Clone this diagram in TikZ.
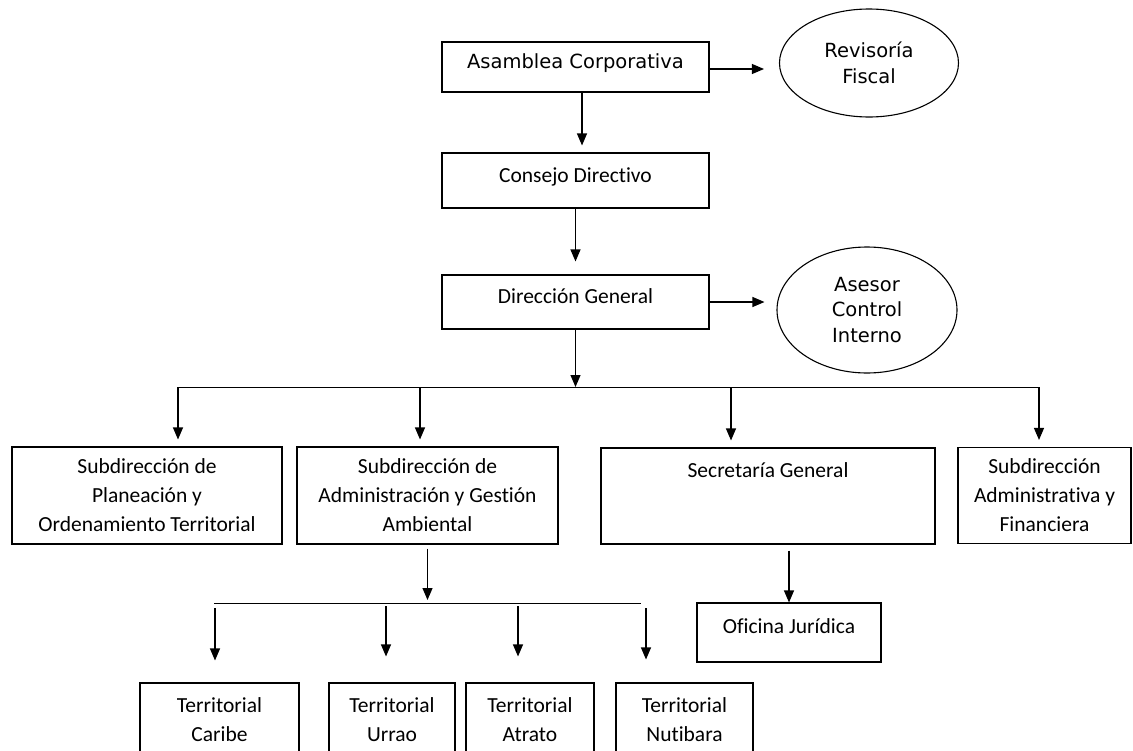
\documentclass[tikz,border=0pt]{standalone}
\usepackage{fontspec}
\setmainfont{Carlito}[Ligatures={NoCommon}]
\newfontfamily\verdfont{DejaVu Sans}
\usepackage{tikz}
\usetikzlibrary{arrows.meta,shapes.geometric}

\begin{document}
\begin{tikzpicture}[x=1pt,y=-1pt,
		box/.style={draw, line width=1.1pt, inner sep=0pt, align=center, font=\fontsize{21.5}{29}\selectfont},
		vbox/.style={box, font=\verdfont\fontsize{19.5}{25.5}\selectfont},
		oval/.style={draw, ellipse, line width=1.1pt, inner sep=0pt, align=center, font=\verdfont\fontsize{19.5}{25.5}\selectfont},
		bar/.style={line width=0.8pt},
		conn/.style={line width=1.1pt, -{Triangle[length=12pt,width=10pt]}}]
	\useasboundingbox (0,0) rectangle (1133,750);

	\node[vbox, minimum width=267, text height=26, text depth=24] (asam) at (575.5,67) {Asamblea Corporativa};
	\node[box, minimum width=267, text height=29, text depth=26] (cons) at (575.5,180.5) {Consejo Directivo};
	\node[box, minimum width=267, text height=28, text depth=26] (dire) at (575.5,302) {Dirección General};
	\node[oval, minimum width=179, minimum height=108] (revi) at (869,63) {Revisoría\\Fiscal};
	\node[oval, minimum width=180, minimum height=126] (ases) at (867,310) {Asesor\\Control\\Interno};

	\node[box, minimum width=270, minimum height=97] (plan) at (147,495.5) {Subdirección de\\Planeación y\\Ordenamiento Territorial};
	\node[box, minimum width=261, minimum height=97] (admi) at (427.5,495.5) {Subdirección de\\Administración y Gestión\\Ambiental};
	\node[box, minimum width=334, text height=29, text depth=67] (secr) at (768,496) {Secretaría General};
	\node[box, minimum width=173, minimum height=96] (fina) at (1044.5,495.5) {Subdirección\\Administrativa y\\Financiera};
	\node[box, minimum width=184, text height=30, text depth=29] (ofic) at (789,632.5) {Oficina Jurídica};

	\node[box, minimum width=159, minimum height=74] (cari) at (219.5,720) {Territorial\\Caribe};
	\node[box, minimum width=126, minimum height=74] (urra) at (392,720) {Territorial\\Urrao};
	\node[box, minimum width=128, minimum height=74] (atra) at (530,720) {Territorial\\Atrato};
	\node[box, minimum width=137, minimum height=74] (nuti) at (684.5,720) {Territorial\\Nutibara};

	\coordinate (b1) at (178,387);
	\coordinate (b2) at (420,387);
	\coordinate (b3) at (731,387);
	\coordinate (b4) at (1040,387);
	\coordinate (t1) at (214,603);
	\coordinate (t2) at (386,603);
	\coordinate (t3) at (518,603);
	\coordinate (t4) at (641,603);

	\draw[bar] (b1) -- (b4);
	\draw[bar] (t1) -- (t4);

	\draw[conn, shorten >=15pt] ([yshift=-2pt]asam.east) -- ([yshift=-2pt]asam.east -| revi.west);
	\draw[conn, shorten >=7pt] ([xshift=6.5pt]asam.south) -- ([xshift=6.5pt]cons.north);
	\draw[conn, shorten >=13pt] (cons.south) -- (dire.north);
	\draw[conn, shorten >=12pt] (dire.east) -- (dire.east -| ases.west);
	\draw[conn] (dire.south) -- (dire.south |- b1);

	\draw[conn, shorten >=7pt] (b1) -- (b1 |- plan.north);
	\draw[conn, shorten >=7pt] (b2) -- (b2 |- admi.north);
	\draw[conn, shorten >=7pt] (b3) -- (b3 |- secr.north);
	\draw[conn, shorten >=7pt] ([xshift=-1pt]b4) -- ([xshift=-1pt]b4 |- fina.north);

	\draw[conn, shorten <=4pt, shorten >=3pt] (admi.south) -- (admi.south |- t1);
	\draw[conn, shorten <=6pt] (secr.south -| ofic.north) -- (ofic.north);

	\draw[conn, shorten <=5pt, shorten >=22pt] ([xshift=1pt]t1) -- ([xshift=1pt]t1 |- cari.north);
	\draw[conn, shorten <=3pt, shorten >=26pt] (t2) -- (t2 |- urra.north);
	\draw[conn, shorten <=3pt, shorten >=26pt] (t3) -- (t3 |- atra.north);
	\draw[conn, shorten <=5pt, shorten >=23pt] ([xshift=5pt]t4) -- ([xshift=5pt]t4 |- nuti.north);
\end{tikzpicture}
\end{document}
